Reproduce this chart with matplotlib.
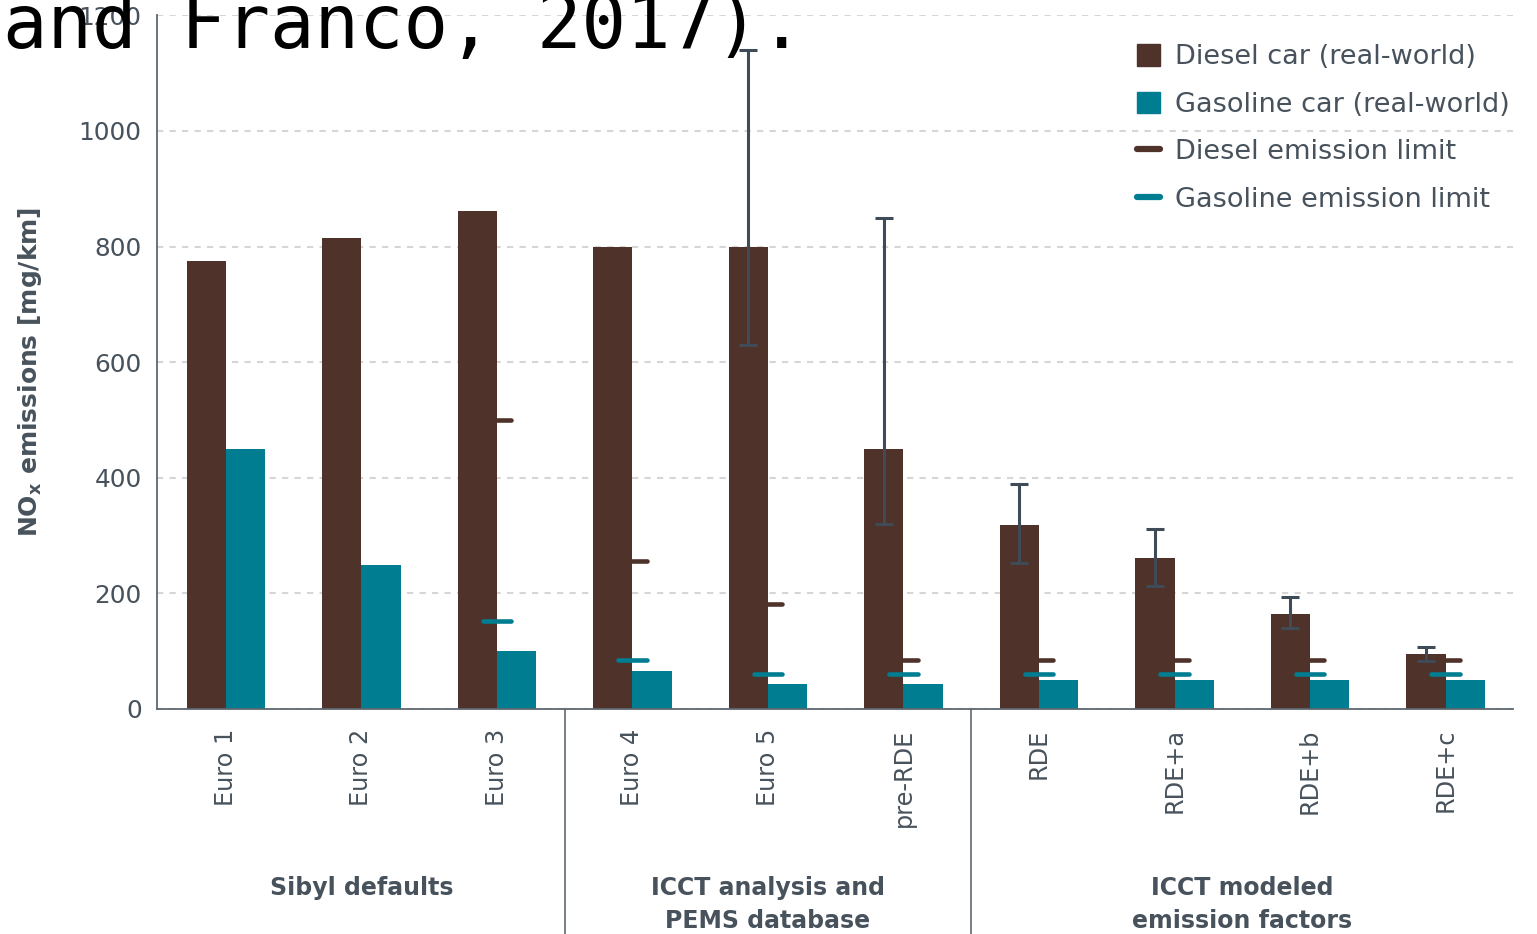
# NOx emissions: real-world diesel vs gasoline cars by Euro standard
import numpy as np
import matplotlib
matplotlib.use("Agg")
import matplotlib.pyplot as plt
from matplotlib.patches import Patch
from matplotlib.lines import Line2D
import matplotlib.transforms as mtransforms

# data
categories = ["Euro 1", "Euro 2", "Euro 3", "Euro 4", "Euro 5", "pre-RDE",
              "RDE", "RDE+a", "RDE+b", "RDE+c"]
diesel = [775, 815, 862, 800, 800, 450, 319, 262, 164, 95]
gasoline = [450, 250, 100, 66, 43, 43, 50, 50, 50, 50]
diesel_limit = [np.nan, np.nan, 500, 256, 181, 84, 84, 84, 84, 84]
gasoline_limit = [np.nan, np.nan, 152, 84, 61, 61, 61, 61, 61, 61]

# error bars on diesel bars (only some categories)
err_idx = [4, 5, 6, 7, 8, 9]
err_low = [630, 320, 252, 212, 140, 83]
err_high = [1140, 850, 390, 311, 193, 107]

groups = ["Sibyl defaults", "ICCT analysis and\nPEMS database",
          "ICCT modeled\nemission factors"]
group_centers = [1, 4, 7.5]
group_breaks = [2.5, 5.5]

c_diesel = "#4f3229"
c_gas = "#007d91"
c_err = "#3f4b56"
c_text = "#47525c"
c_axis = "#5f6870"

plt.rcParams["font.family"] = ["DejaVu Sans"]

fig = plt.figure(figsize=(15.37, 9.34), dpi=100)
ax = fig.add_axes([157 / 1537, 1 - 709 / 934, (1513 - 157) / 1537, (709 - 15.4) / 934])

x = np.arange(len(categories))
w = 0.29

ax.bar(x - w / 2, diesel, w, color=c_diesel, zorder=2)
ax.bar(x + w / 2, gasoline, w, color=c_gas, zorder=2)

# emission limit markers
half = 0.105
for i in range(len(categories)):
    if not np.isnan(diesel_limit[i]):
        ax.plot([i - half, i + half], [diesel_limit[i]] * 2, color=c_diesel,
                lw=3.3, solid_capstyle="round", zorder=1.5)
    if not np.isnan(gasoline_limit[i]):
        ax.plot([i - half, i + half], [gasoline_limit[i]] * 2, color=c_gas,
                lw=3.3, solid_capstyle="round", zorder=3)

# error bars
ex = np.array(err_idx) - w / 2
ey = np.array([diesel[i] for i in err_idx])
yerr = [ey - np.array(err_low), np.array(err_high) - ey]
ax.errorbar(ex, ey, yerr=yerr, fmt="none", ecolor=c_err, elinewidth=2.2,
            capsize=6.8, capthick=2.2, zorder=4)

ax.set_xlim(-0.509, 9.498)
ax.set_ylim(0, 1200)
ax.set_yticks(range(0, 1201, 200))
ax.yaxis.grid(True, color="#d6d6d6", linestyle=(0, (3, 3)), lw=1.5)
ax.set_axisbelow(True)

for s in ["top", "right"]:
    ax.spines[s].set_visible(False)
for s in ["left", "bottom"]:
    ax.spines[s].set_color(c_axis)
    ax.spines[s].set_linewidth(1.3)

ax.set_xticks(x)
ax.set_xticklabels(categories, rotation=90, fontsize=17.3, color=c_text)
ax.tick_params(axis="x", length=0, pad=14)
ax.tick_params(axis="y", length=0, pad=11, labelsize=17.8, labelcolor=c_text)

ax.set_ylabel(r"$\mathbf{NO_x}$ emissions [mg/km]", fontsize=18, fontweight="bold",
              color=c_text)
ax.yaxis.set_label_coords(-0.083, 0.486)

# group separators and labels under the axis
trans = mtransforms.blended_transform_factory(ax.transData, ax.transAxes)
for b in group_breaks:
    ax.plot([b, b], [0, -0.33], transform=trans, color=c_axis, lw=1.2, clip_on=False)
for g, c in zip(groups, group_centers):
    ax.text(c, (709 - 876) / 693.6, g, transform=trans, ha="center", va="top",
            fontsize=17, fontweight="bold", color=c_text, linespacing=1.5)

handles = [
    Patch(color=c_diesel, label="Diesel car (real-world)"),
    Patch(color=c_gas, label="Gasoline car (real-world)"),
    Line2D([], [], color=c_diesel, lw=4.5, solid_capstyle="round", label="Diesel emission limit"),
    Line2D([], [], color=c_gas, lw=4.5, solid_capstyle="round", label="Gasoline emission limit"),
]
leg = fig.legend(handles=handles, loc="upper left",
                 bbox_to_anchor=(1137 / 1537, 1 - 44 / 934), frameon=False,
                 fontsize=19.5, handlelength=0.85, handleheight=0.85,
                 handletextpad=0.55, labelspacing=0.79, borderpad=0, borderaxespad=0)
for t in leg.get_texts():
    t.set_color(c_text)

# text fragment overlapping the top of the figure
fig.text(3 / 1537, 1 - 48 / 934, "and Franco, 2017).", fontsize=53.3,
         family="DejaVu Sans Mono", color="black", va="baseline", ha="left")

fig.savefig("out.png", dpi=100)
